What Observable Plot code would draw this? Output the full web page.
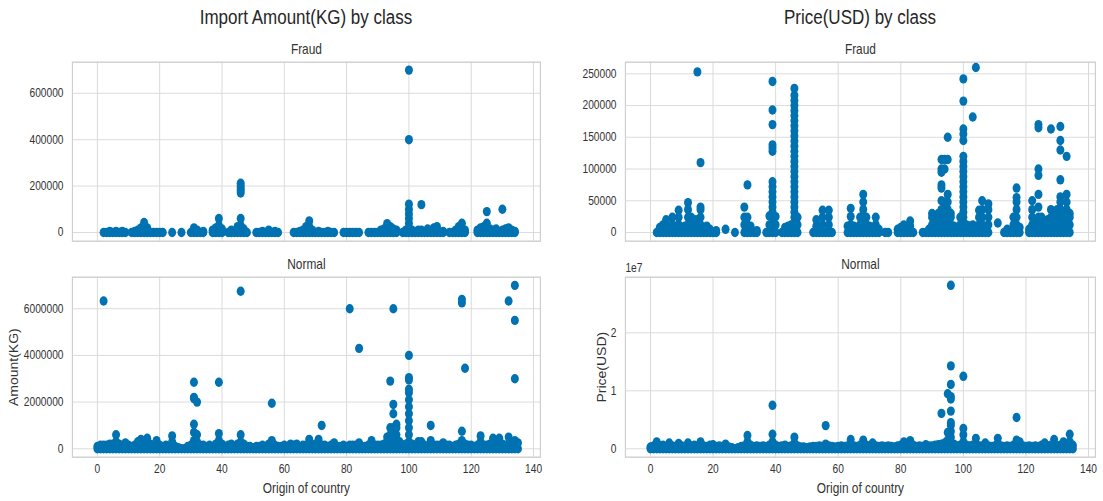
<!DOCTYPE html>
<html>
<head>
<meta charset="utf-8">
<script src="https://cdn.jsdelivr.net/npm/d3@7"></script>
<script src="https://cdn.jsdelivr.net/npm/@observablehq/plot@0.6"></script>
<style>
  html, body { margin: 0; padding: 0; background: #ffffff; }
  #wrap { position: relative; width: 1103px; height: 501px; overflow: hidden; background: #fff; }
  .suptitle { position: absolute; top: 6px; font-family: "Liberation Sans", Arial, sans-serif; font-size: 20px; color: #262626; text-align: center; white-space: nowrap; transform: translateX(-50%) scaleX(0.85); }
  .panel { position: absolute; transform-origin: 0 0; transform: scaleX(0.85); }
</style>
</head>
<body>
<div id="wrap">
  <div class="suptitle" style="left:306px">Import Amount(KG) by class</div>
  <div class="suptitle" style="left:860px">Price(USD) by class</div>
</div>
<script>
// ---- tick values ----
const countryTicks = [0, 20, 40, 60, 80, 100, 120, 140];
const kgFraudTicks = [0, 200000, 400000, 600000];
const usdFraudTicks = [0, 50000, 100000, 150000, 200000, 250000];
const kgNormalTicks = [0, 2000000, 4000000, 6000000];
const usdNormalTicks = [0, 10000000, 20000000];

// ---- data: [country code, observed values...] ----
const kgFraud = [
  [2,0],[3,0],[4,0,5000],[5,0],[6,0,5000],[7,0],[8,0,5000],[9,0],
  [11,0],[12,0,5000],[13,0,10000],[14,0,20000],[15,0,20000,43000],[16,0,20000],[17,0],
  [18,0],[19,0],[20,0],[21,0],
  [24,0],[27,0],
  [30,0],[31,0,20000],[32,0,10000],[33,0],[34,0,5000],
  [37,0,10000],[38,0,20000],[39,0,30000,60000],[40,0,15000],
  [42,0],[43,0,10000],[44,0],[45,0,25000],[46,0,30000,60000,170000,180000,190000,200000,212000],[47,0,15000],[48,0],
  [51,0],[52,0],[53,0,5000],[54,0],[55,0,10000],[56,0],[57,0,5000],[58,0],
  [63,0],[64,0],[65,0,5000],[66,0,10000],[67,0,25000],[68,0,25000,50000],[69,0,10000],[70,0],[71,0,5000],[72,0],[73,0],[74,0,5000],[75,0],[76,0],
  [79,0],[80,0],[81,0],[82,0],[83,0],[84,0],
  [87,0],[88,0],[89,0],[90,0],[91,0,10000],[92,0,15000],[93,0,20000,38000],[94,0,25000],[95,0,15000],[96,0,10000],
  [98,0],[99,0,10000],[100,0,20000,40000,60000,80000,100000,122000,400000,700000],[101,0,10000],[102,0],[103,0,10000],[104,0,10000,120000],[105,0],[106,0,15000],[107,0],[108,0,20000],[109,0,25000],[110,0],[111,0,5000],
  [113,0],[114,0],[115,0,10000],[116,0,25000],[117,0,20000,40000],[118,0,10000],
  [122,0,10000],[123,0,20000],[124,0,25000],[125,0,20000,40000,90000],[126,0,15000],[127,0,10000],[128,0,15000],[129,0],[130,0,10000,100000],[131,0,15000],[132,0,20000],[133,0,10000],[134,0,5000]
];

const usdFraud = [
  [2,0],[3,0,8000],[4,0,12000],[5,0,10000,20000],
  [6,0,8000],[7,0,12000,24000],[8,0,10000],[9,0,12000,24000,35000],[10,0,8000],
  [11,0,10000],[12,0,12000,24000,36000,47000],[13,0,12000,24000],[14,0,10000,20000],[15,0,10000,20000,253000],[16,0,12000,24000,36000,40000,110000],[17,0,8000],
  [18,0,10000],[19,0,5000],[20,0],[21,0,3000],
  [24,5000],[27,0],
  [30,0,12000,24000,40000],[31,0,12000,24000,75000],[32,0,10000],[33,0],[34,0,3000],
  [37,0],[38,0,12000,26000],[39,0,8000,16000,24000,32000,40000,48000,56000,64000,72000,80000,128000,133000,138000,170000,193000,238000],[40,0,12000,25000],
  [42,0],[43,0,8000],[44,0,10000],[45,0,12000],
  [46,0,8000,16000,24000,32000,40000,48000,56000,64000,72000,80000,88000,96000,104000,112000,120000,128000,136000,144000,152000,160000,168000,176000,184000,192000,200000,208000,216000,227000],
  [47,0,12000,24000],
  [52,0],[53,0,10000,20000],[54,0,8000],[55,0,12000,24000,35000],[56,0],[57,0,12000,24000,35000],[58,0],
  [63,0,10000],[64,0,12000,25000,38000],[65,0,10000],[66,0,8000],[67,0,12000,24000],[68,0,12000,24000,36000,48000,60000],[69,0,12000,24000],[70,0,10000],[71,0,8000],[72,0,12000,24000],[73,0,5000],
  [75,0],[76,0],
  [79,0,5000],[80,0,8000],[81,0,12000],[82,0,8000],[83,0,10000,18000],[84,0],
  [87,0],[88,0],[89,0,5000],[90,0,12000,24000,30000],[91,0,12000,20000],[92,0,12000,24000,30000],
  [93,0,12000,24000,36000,50000,70000,75000,95000,100000,115000],[94,0,12000,24000,36000,48000,100000,115000],[95,0,12000,24000,36000,48000,60000,115000,150000],
  [96,0,12000,24000,30000],[97,0,10000],[98,0,8000],[99,0,12000,24000],
  [100,0,8000,16000,24000,32000,40000,48000,56000,64000,72000,80000,88000,96000,104000,112000,120000,145000,155000,163000,207000,242000],
  [101,0,12000],[102,0,10000],[103,0,12000,182000],[104,0,8000,260000],[105,0,12000,24000,35000],[106,0,12000,24000,36000,50000],[107,0,10000],[108,0,12000,24000,36000,45000],
  [111,15000],
  [113,0],[114,0,5000],[115,0],[116,0,12000,24000],[117,0,12000,24000,36000,48000,55000,70000],[118,0,8000],
  [121,0,5000],[122,0,12000,24000,36000,50000],[123,0,12000,20000],[124,0,12000,24000,40000,60000,90000,100000,165000,170000],[125,0,12000,24000],[126,0,10000],[127,0,12000,20000],
  [128,0,12000,24000,36000,163000],[129,0,12000,24000,30000],[130,0,12000,24000,36000],[131,0,12000,24000,36000,48000,56000,83000,130000,145000,167000],
  [132,0,12000,24000,30000],[133,0,12000,24000,36000,48000,60000,120000],[134,0,12000,24000,30000]
];

const kgNormal = [
  [0,0,100000],[1,0,150000],[2,0,150000,6330000],[3,0,150000],[4,0,200000],[5,0,200000],[6,0,300000,600000],[7,0,200000],[8,0,100000],[9,0,250000],
  [10,0,150000],[11,0,100000],[12,0,150000],[13,0,300000],[14,0,400000],[15,0,350000],[16,0,450000],[17,0,200000],[18,0,150000],[19,0,350000],
  [20,0,150000],[21,0,100000],[22,0,150000],[23,0,100000],[24,0,300000,550000],[25,0,100000],[26,0,50000],[27,0],[28,0],[29,0,100000],
  [30,0,150000],[31,0,350000,700000,1050000,2150000,2200000,2850000],[32,0,300000,600000,2000000],[33,0,150000],[34,0,150000],[35,0,100000],[36,0,150000],[37,0,100000],[38,0,200000],[39,0,350000,650000,2850000],
  [40,0,200000],[41,0,100000],[42,0,150000],[43,0,200000],[44,0,100000],[45,0,200000],[46,0,300000,600000,6750000],[47,0,200000],[48,0,100000],[49,0,100000],
  [50,0,50000],[51,0,100000],[52,0,100000],[53,0,150000],[54,0,100000],[55,0,200000],[56,0,350000,1950000],[57,0,150000],[58,0,100000],[59,0,100000],
  [60,0,150000],[61,0,100000],[62,0,200000],[63,0,150000],[64,0,200000],[65,0,100000],[66,0,150000],[67,0,150000],[68,0,400000],[69,0,150000],
  [70,0,200000],[71,0,400000],[72,0,150000,1000000],[73,0,150000],[74,0,100000],[75,0,150000],[76,0,250000],[77,0,100000],[78,0,100000],[79,0,150000],
  [80,0,100000],[81,0,150000,6000000],[82,0,150000],[83,0,150000],[84,0,250000,4300000],[85,0,100000],[86,0,100000],[87,0,150000],[88,0,350000],[89,0,150000],
  [90,0,150000],[91,0,150000],[92,0,200000],[93,0,300000,500000],[94,0,300000,600000,900000,2900000],[95,0,300000,600000,900000,1500000,1900000,6000000],[96,0,300000,600000,900000,1050000],[97,0,300000],[98,0,150000],[99,0,200000],
  [100,0,300000,600000,900000,1200000,1500000,1800000,2100000,2400000,2550000,2950000,3050000,4000000],
  [101,0,200000],[102,0,150000],[103,0,300000],[104,0,300000],[105,0,150000],[106,0,100000],[107,0,350000,1000000],[108,0,150000],[109,0,150000],
  [110,0,150000],[111,0,250000],[112,0,150000],[113,0,150000],[114,0,100000],[115,0,150000],[116,0,200000],[117,0,350000,750000,6250000,6400000],[118,0,200000,3450000],[119,0,150000],
  [120,0,150000],[121,0,100000],[122,0,150000],[123,0,300000,550000],[124,0,150000],[125,0,150000],[126,0,200000],[127,0,450000],[128,0,200000],[129,0,450000],
  [130,0,200000],[131,0,150000],[132,0,500000,6330000],[133,0,300000],[134,0,350000,3000000,5500000,7000000],[135,0,250000]
];

const usdNormal = [
  [0,0,300000],[1,0,500000],[2,0,1200000],[3,0,500000],[4,0,600000],[5,0,400000],[6,0,1000000],[7,0,500000],[8,0,400000],[9,0,900000],
  [10,0,500000],[11,0,400000],[12,0,1000000],[13,0,500000],[14,0,600000],[15,0,500000],[16,0,1200000],[17,0,500000],[18,0,400000],[19,0,600000],
  [20,0,700000],[21,0,400000],[22,0,500000],[23,0,400000],[24,0,800000],[25,0,300000],[26,0,200000],[27,0],[28,0,200000],[29,0,400000],
  [30,0,500000],[31,0,1200000,2300000],[32,0,600000],[33,0,400000],[34,0,500000],[35,0,400000],[36,0,500000],[37,0,400000],[38,0,600000],[39,0,1200000,2500000,7500000],
  [40,0,600000],[41,0,400000],[42,0,500000],[43,0,600000],[44,0,400000],[45,0,500000],[46,0,1000000,2000000],[47,0,500000],[48,0,300000],[49,0,300000],
  [50,0,200000],[51,0,300000],[52,0,400000],[53,0,400000],[54,0,500000],[55,0,400000],[56,0,800000,4000000],[57,0,500000],[58,0,400000],[59,0,300000],
  [60,0,400000],[61,0,500000],[62,0,400000],[63,0,500000],[64,0,800000,1600000],[65,0,500000],[66,0,400000],[67,0,600000],[68,0,800000,1500000],[69,0,600000],
  [70,0,500000],[71,0,1000000],[72,0,500000],[73,0,400000],[74,0,500000],[75,0,400000],[76,0,500000],[77,0,400000],[78,0,300000],[79,0,500000],
  [80,0,600000],[81,0,1200000],[82,0,600000],[83,0,1400000],[84,0,600000],[85,0,400000],[86,0,500000],[87,0,400000],[88,0,700000],[89,0,500000],
  [90,0,500000],[91,0,600000],[92,0,700000],[93,0,800000,6100000],[94,0,1000000],[95,0,1500000,2800000,9500000],
  [96,0,1000000,2000000,3000000,4000000,4500000,6500000,8600000,9000000,11100000,14300000,28200000],[97,0,800000],[98,0,500000],[99,0,600000],
  [100,0,1200000,2400000,3500000,12500000],[101,0,600000],[102,0,500000],[103,0,600000],[104,0,900000,1800000],[105,0,500000],[106,0,500000],[107,0,1000000],[108,0,500000],[109,0,400000],
  [110,0,500000],[111,0,900000,1800000],[112,0,500000],[113,0,400000],[114,0,500000],[115,0,400000],[116,0,600000],[117,0,800000,1500000,5400000],[118,0,1200000],[119,0,500000],
  [120,0,400000],[121,0,500000],[122,0,400000],[123,0,500000],[124,0,400000],[125,0,600000],[126,0,1000000],[127,0,500000],[128,0,600000],[129,0,800000,1600000],
  [130,0,500000],[131,0,600000],[132,0,1200000],[133,0,800000],[134,0,1200000,2500000],[135,0,600000]
];

// ---- drawing ----
// The reference image is horizontally squeezed; each panel is drawn wider and
// compressed with CSS scaleX so text and marks share that squeezed look.
const SX = 0.85;
const FONT = '"Liberation Sans", Arial, sans-serif';
const DOT = "#0072B2";
const GRID = "#d9d9d9";
const FRAME = "#cfcfcf";

function panel(cfg) {
  const data = cfg.rows.flatMap(([c, ...vs]) => vs.map(v => ({c, v})));
  const marks = [
    Plot.gridX(countryTicks, {stroke: GRID, strokeOpacity: 1, strokeWidth: 1.15}),
    Plot.gridY(cfg.yTicks, {stroke: GRID, strokeOpacity: 1, strokeWidth: 1}),
    Plot.frame({stroke: FRAME, strokeWidth: 1.4}),
    Plot.axisY(cfg.yTicks, {tickSize: 0, tickPadding: 10.5, tickFormat: cfg.yFormat, label: null, fontSize: 12}),
    Plot.dot(data, {x: "c", y: "v", r: 4.7, fill: DOT}),
    Plot.text([cfg.title], {text: d => d, frameAnchor: "top", dy: -12.5, fontSize: 14, lineAnchor: "middle"})
  ];
  if (cfg.xAxis) {
    marks.push(Plot.axisX(countryTicks, {tickSize: 0, tickPadding: 7.5, label: null, fontSize: 12}));
    marks.push(Plot.text(["Origin of country"], {text: d => d, frameAnchor: "bottom", dy: 31.5, fontSize: 14, lineAnchor: "middle"}));
  }
  if (cfg.yLabel) {
    marks.push(Plot.text([cfg.yLabel], {text: d => d, frameAnchor: "left", textAnchor: "middle", dx: cfg.yLabelDx / SX, rotate: -90, fontSize: 14, lineAnchor: "middle"}));
  }
  if (cfg.offsetText) {
    marks.push(Plot.text([cfg.offsetText], {text: d => d, frameAnchor: "top-left", textAnchor: "start", dy: -9, fontSize: 12, lineAnchor: "middle"}));
  }
  const svg = Plot.plot({
    width: cfg.width / SX, height: cfg.height,
    marginLeft: cfg.ml / SX, marginRight: cfg.mr / SX, marginTop: cfg.mt, marginBottom: cfg.mb,
    x: {domain: [-8, 142.2], axis: null},
    y: {domain: cfg.yDomain, axis: null},
    style: {fontFamily: FONT, fontSize: "12px", color: "#333", background: "transparent", overflow: "visible"},
    marks
  });
  svg.classList.add("panel");
  svg.style.left = cfg.left + "px";
  svg.style.top = cfg.top + "px";
  document.getElementById("wrap").appendChild(svg);
}

const fmtInt = d3.format("d");

panel({rows: kgFraud, yTicks: kgFraudTicks, yFormat: fmtInt, yDomain: [-37500, 734000], title: "Fraud",
  left: 0, top: 40, width: 551, height: 210, ml: 72, mr: 11, mt: 21.7, mb: 9.3});
panel({rows: usdFraud, yTicks: usdFraudTicks, yFormat: fmtInt, yDomain: [-13700, 268300], title: "Fraud",
  left: 551, top: 40, width: 552, height: 210, ml: 74, mr: 8, mt: 21.7, mb: 9.3});
panel({rows: kgNormal, yTicks: kgNormalTicks, yFormat: fmtInt, yDomain: [-360000, 7350000], title: "Normal",
  xAxis: true, yLabel: "Amount(KG)", yLabelDx: -58.5,
  left: 0, top: 256, width: 551, height: 245, ml: 72, mr: 11, mt: 20.7, mb: 44.3});
panel({rows: usdNormal, yTicks: usdNormalTicks, yFormat: d => fmtInt(d / 1e7), yDomain: [-1450000, 29600000], title: "Normal",
  xAxis: true, yLabel: "Price(USD)", yLabelDx: -23, offsetText: "1e7",
  left: 551, top: 256, width: 552, height: 245, ml: 74, mr: 8, mt: 20.7, mb: 44.3});
</script>
</body>
</html>
